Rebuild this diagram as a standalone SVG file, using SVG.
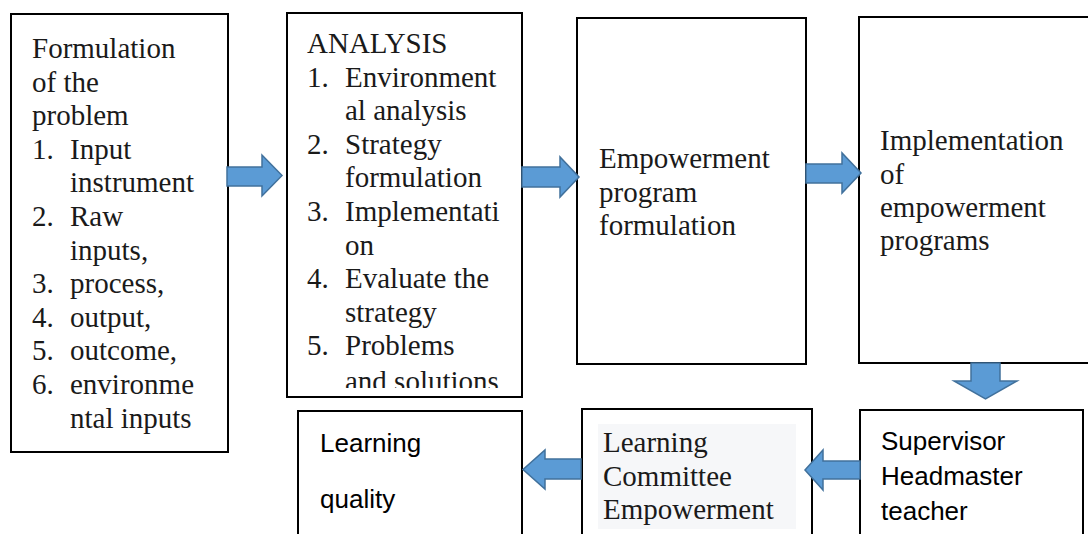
<svg xmlns="http://www.w3.org/2000/svg" width="1088" height="534" viewBox="0 0 1088 534">
  <style>
    .box { fill: #ffffff; stroke: #000000; stroke-width: 2; }
    .serif { font-family: "Liberation Serif", "Times New Roman", serif; font-size: 29px; fill: #1a1a1a; }
    .sans { font-family: "Liberation Sans", Arial, sans-serif; font-size: 26px; fill: #000000; }
    .arrow { fill: #5b9bd5; stroke: #41719c; stroke-width: 1.5; stroke-linejoin: miter; }
  </style>
  <defs>
    <clipPath id="analysisClip">
      <rect x="288" y="14" width="233" height="374"/>
    </clipPath>
  </defs>
  <rect width="1088" height="534" fill="#ffffff"/>

  <!-- Problem formulation -->
  <g id="node-formulation">
    <rect class="box" x="11" y="14" width="217" height="438"/>
    <text class="serif">
      <tspan x="32" y="58">Formulation</tspan>
      <tspan x="32" y="91.6">of the</tspan>
      <tspan x="32" y="125.2">problem</tspan>
      <tspan x="32" y="158.8">1.</tspan><tspan x="70" y="158.8">Input</tspan>
      <tspan x="70" y="192.4">instrument</tspan>
      <tspan x="32" y="226">2.</tspan><tspan x="70" y="226">Raw</tspan>
      <tspan x="70" y="259.6">inputs,</tspan>
      <tspan x="32" y="293.2">3.</tspan><tspan x="70" y="293.2">process,</tspan>
      <tspan x="32" y="326.8">4.</tspan><tspan x="70" y="326.8">output,</tspan>
      <tspan x="32" y="360.4">5.</tspan><tspan x="70" y="360.4">outcome,</tspan>
      <tspan x="32" y="394">6.</tspan><tspan x="70" y="394">environme</tspan>
      <tspan x="70" y="427.6">ntal inputs</tspan>
    </text>
  </g>

  <!-- Analysis -->
  <g id="node-analysis">
    <rect class="box" x="287" y="13" width="235" height="384"/>
    <text class="serif" clip-path="url(#analysisClip)">
      <tspan x="307" y="53">ANALYSIS</tspan>
      <tspan x="307" y="86.6">1.</tspan><tspan x="345" y="86.6">Environment</tspan>
      <tspan x="345" y="120.2">al analysis</tspan>
      <tspan x="307" y="153.8">2.</tspan><tspan x="345" y="153.8">Strategy</tspan>
      <tspan x="345" y="187.4">formulation</tspan>
      <tspan x="307" y="221">3.</tspan><tspan x="345" y="221">Implementati</tspan>
      <tspan x="345" y="254.6">on</tspan>
      <tspan x="307" y="288.2">4.</tspan><tspan x="345" y="288.2">Evaluate the</tspan>
      <tspan x="345" y="321.8">strategy</tspan>
      <tspan x="307" y="355.4">5.</tspan><tspan x="345" y="355.4">Problems</tspan>
      <tspan x="345" y="391">and solutions</tspan>
    </text>
  </g>

  <!-- Empowerment program formulation -->
  <g id="node-program">
    <rect class="box" x="577" y="18" width="229" height="346"/>
    <text class="serif">
      <tspan x="599" y="168">Empowerment</tspan>
      <tspan x="599" y="201.5">program</tspan>
      <tspan x="599" y="235">formulation</tspan>
    </text>
  </g>

  <!-- Implementation of empowerment programs -->
  <g id="node-implementation">
    <rect class="box" x="859" y="17" width="240" height="346"/>
    <text class="serif">
      <tspan x="880" y="150">Implementation</tspan>
      <tspan x="880" y="183.5">of</tspan>
      <tspan x="880" y="217">empowerment</tspan>
      <tspan x="880" y="250">programs</tspan>
    </text>
  </g>

  <!-- Learning quality -->
  <g id="node-quality">
    <rect class="box" x="298" y="411" width="224" height="140"/>
    <text class="sans">
      <tspan x="320" y="452">Learning</tspan>
      <tspan x="320" y="508">quality</tspan>
    </text>
  </g>

  <!-- Learning Committee Empowerment -->
  <g id="node-committee">
    <rect class="box" x="582" y="409" width="230" height="140"/>
    <rect x="598" y="424" width="198" height="105" fill="#f6f7f9"/>
    <text class="serif">
      <tspan x="603" y="452">Learning</tspan>
      <tspan x="603" y="486">Committee</tspan>
      <tspan x="603" y="519">Empowerment</tspan>
    </text>
  </g>

  <!-- Supervisor / Headmaster / teacher -->
  <g id="node-actors">
    <rect class="box" x="860" y="410" width="223" height="140"/>
    <text class="sans">
      <tspan x="881" y="450">Supervisor</tspan>
      <tspan x="881" y="485">Headmaster</tspan>
      <tspan x="881" y="520">teacher</tspan>
    </text>
  </g>

  <!-- Block arrows between stages -->
  <g id="connectors">
    <polygon class="arrow" points="227,167 262,167 262,155 282,175.5 262,196 262,186 227,186"/>
    <polygon class="arrow" points="522,167 560,167 560,157 579,177 560,197 560,187 522,187"/>
    <polygon class="arrow" points="806,164 842,164 842,153 861,173 842,193 842,183 806,183"/>
    <polygon class="arrow" points="971,363 1000,363 1000,381 1017,381 985.5,399 954,381 971,381"/>
    <polygon class="arrow" points="860,461 823,461 823,450 805,470 823,490 823,479 860,479"/>
    <polygon class="arrow" points="581,459 545,459 545,450 523,469.5 545,489 545,479 581,479"/>
  </g>
</svg>
